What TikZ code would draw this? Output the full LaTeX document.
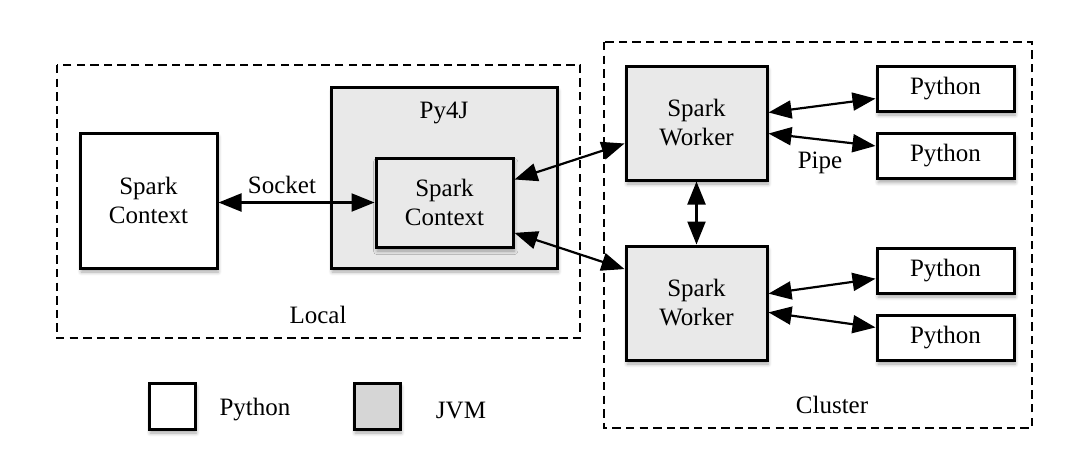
\documentclass[tikz,border=0pt]{standalone}
\usepackage{fontspec}
\setmainfont{Liberation Serif}
\usetikzlibrary{arrows.meta,calc,shadows.blur}
\definecolor{jvmgray}{HTML}{E9E9E9}
\definecolor{keygray}{HTML}{D6D6D6}
\tikzset{
  box/.style={draw, line width=1.5pt, fill=white, inner sep=0pt, align=center,
    blur shadow={shadow xshift=0.6pt, shadow yshift=-2pt, shadow blur steps=6, shadow opacity=35}},
  pybox/.style={box, minimum width=68.5pt, minimum height=22.5pt},
  jvmbox/.style={box, fill=jvmgray},
  area/.style={draw, line width=1.1pt, dash pattern=on 4.2pt off 2.6pt},
  link/.style={line width=1.1pt, {Triangle[length=11.5pt,width=9pt]}-{Triangle[length=11.5pt,width=9pt]}},
  lbl/.style={inner sep=0pt}
}
\begin{document}
\begin{tikzpicture}[x=0.5pt,y=-0.5pt,font=\fontsize{12.5}{14.5}\selectfont]
\useasboundingbox (0,0) rectangle (1086,472);
% dashed groups
\draw[area] (57,65) rectangle (580,338);
\draw[area] (604,42) rectangle (1032,428);
\node[lbl] (local) at (318,315) {Local};
\node[lbl] (cluster) at (832,405) {Cluster};
% local side
\node[box, minimum width=68.5pt, minimum height=67.5pt] (pyctx) at (148.5,200.5) {Spark\\Context};
\node[jvmbox, minimum width=113pt, minimum height=90.5pt] (py4j) at (444,177.5) {};
\node[lbl] (py4jlbl) at (444,113) {Py4J};
\node[jvmbox, minimum width=68.5pt, minimum height=44.5pt] (jvmctx) at (444.5,202.5) {Spark\\Context};
% cluster side
\node[jvmbox, minimum width=70.5pt, minimum height=57pt] (worker1) at (696.5,123) {Spark\\Worker};
\node[jvmbox, minimum width=70.5pt, minimum height=57pt] (worker2) at (696.5,303) {Spark\\Worker};
\node[pybox] (py1) at (945.5,88.5) {Python};
\node[pybox] (py2) at (945.5,156) {Python};
\node[pybox] (py3) at (945.5,270.5) {Python};
\node[pybox] (py4) at (945.5,337.5) {Python};
% legend
\node[box, minimum size=23pt] (keypy) at (172,406) {};
\node[lbl] (keypylbl) at (255,410) {Python};
\node[box, fill=keygray, minimum size=23pt] (keyjvm) at (377,406) {};
\node[lbl] (keyjvmlbl) at (461,410) {JVM};
% connectors
\draw[link] (pyctx.east |- jvmctx.west) -- (jvmctx.west);
\node[lbl] (socket) at (282,185) {Socket};
\draw[link] ($(jvmctx.north east)!0.25!(jvmctx.south east)$) -- ($(worker1.north west)!0.675!(worker1.south west)$);
\draw[link] ($(jvmctx.north east)!0.83!(jvmctx.south east)$) -- ($(worker2.north west)!0.21!(worker2.south west)$);
\draw[link] (worker1.south) -- (worker2.north);
\draw[link] ($(worker1.north east)!0.41!(worker1.south east)$) -- ($(py1.north west)!0.71!(py1.south west)$);
\draw[link] ($(worker1.north east)!0.59!(worker1.south east)$) -- ($(py2.north west)!0.29!(py2.south west)$);
\node[lbl] (pipe) at (820,163) {Pipe};
\draw[link] ($(worker2.north east)!0.42!(worker2.south east)$) -- ($(py3.north west)!0.67!(py3.south west)$);
\draw[link] ($(worker2.north east)!0.58!(worker2.south east)$) -- ($(py4.north west)!0.29!(py4.south west)$);
\end{tikzpicture}
\end{document}
